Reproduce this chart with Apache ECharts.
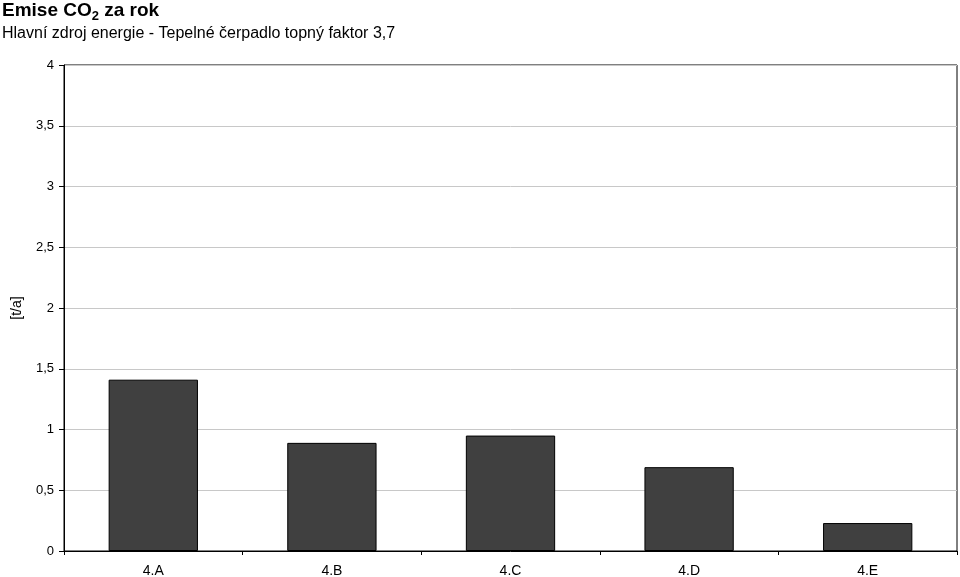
<!DOCTYPE html>
<html>
<head>
<meta charset="utf-8">
<script src="https://cdn.jsdelivr.net/npm/echarts@6/dist/echarts.min.js"></script>
<style>html,body{margin:0;padding:0;background:#fff;}#c{width:960px;height:577px;}</style>
</head>
<body>
<div id="c"></div>
<script>
const categories = ['4.A', '4.B', '4.C', '4.D', '4.E'];
const values = [1.41, 0.89, 0.95, 0.69, 0.23];
const yTicks = [0, 0.5, 1, 1.5, 2, 2.5, 3, 3.5, 4];

const chart = echarts.init(document.getElementById('c'));
const FONT = 'Liberation Sans, Arial, sans-serif';
chart.setOption({
  animation: false,
  backgroundColor: '#fff',
  title: {
    text: '{b|Emise CO}{s|2}{b| za rok}',
    subtext: 'Hlavní zdroj energie - Tepelné čerpadlo topný faktor 3,7',
    left: 2, top: 0, padding: 0, itemGap: 3,
    textStyle: {
      rich: {
        b: { fontFamily: FONT, fontWeight: 'bold', fontSize: 19, color: '#000', lineHeight: 20, verticalAlign: 'bottom' },
        s: { fontFamily: FONT, fontWeight: 'bold', fontSize: 13, color: '#000', lineHeight: 12, verticalAlign: 'bottom', padding: [0, 0, -3, 0] }
      }
    },
    subtextStyle: { fontFamily: FONT, fontSize: 16, color: '#000', lineHeight: 18 }
  },
  grid: { left: 64, top: 65, right: 3, bottom: 26, show: true, borderColor: '#000', borderWidth: 1,
    containLabel: false, outerBoundsMode: 'none' },
  xAxis: {
    type: 'category', data: categories,
    axisLine: { lineStyle: { color: '#000', width: 1 } },
    axisTick: { show: true, alignWithLabel: false, length: 4, lineStyle: { color: '#000' } },
    axisLabel: { fontFamily: FONT, fontSize: 14, color: '#000', margin: 13 },
    splitLine: { show: false }
  },
  yAxis: {
    type: 'value', min: 0, max: 4, interval: 0.5,
    name: '[t/a]', nameLocation: 'middle', nameGap: 40, nameRotate: 90,
    nameTextStyle: { fontFamily: FONT, fontSize: 14, color: '#000' },
    axisLine: { show: true, lineStyle: { color: '#000', width: 1 } },
    axisTick: { show: true, length: 5, lineStyle: { color: '#000' } },
    axisLabel: { fontFamily: FONT, fontSize: 13, color: '#000', margin: 10,
      formatter: v => String(v).replace('.', ',') },
    splitLine: { show: true, lineStyle: { color: '#c8c8c8', width: 1 } }
  },
  series: [{
    type: 'bar', data: values, barWidth: '50%',
    itemStyle: { color: '#404040', borderColor: '#000', borderWidth: 1 }
  }]
});
</script>
</body>
</html>
